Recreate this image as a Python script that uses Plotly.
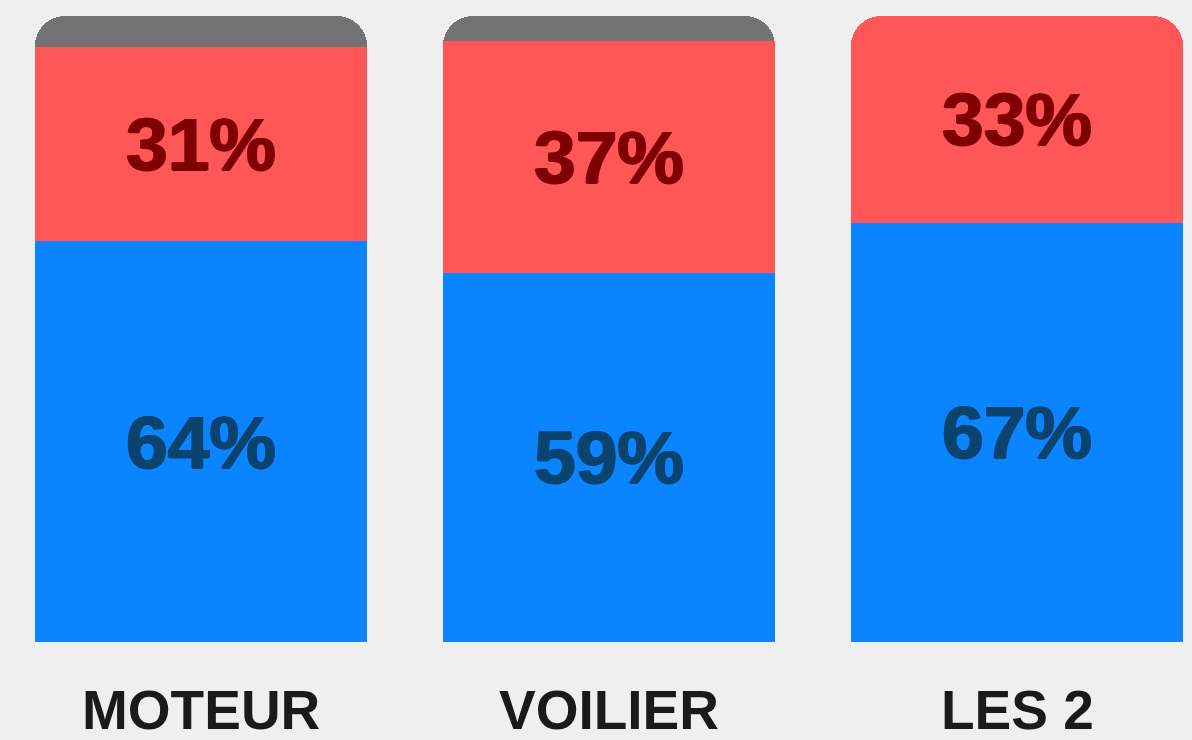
import plotly.graph_objects as go

categories = ["MOTEUR", "VOILIER", "LES 2"]
blue_vals = [64, 59, 67]
red_vals = [31, 37, 33]
grey_vals = [5, 4, 0]

BG = "#efefef"
BLUE_TXT = "#0b436f"
RED_TXT = "#7f0000"


def heavy(c):
    return ", ".join(f"{dx}px {dy}px 0px {c}" for dx, dy in [(1, 0), (-1, 0), (0, 1)])


fig = go.Figure()
fig.add_trace(go.Bar(
    x=categories, y=blue_vals, marker_color="#0a85ff", marker_line_width=0,
    text=[f"{v}%" for v in blue_vals], textposition="inside",
    insidetextanchor="middle", textangle=0, constraintext="none",
    textfont=dict(family="Liberation Sans, Arial", size=75, color=BLUE_TXT,
                  weight="bold", shadow=heavy(BLUE_TXT)),
    hoverinfo="skip",
))
fig.add_trace(go.Bar(
    x=categories, y=red_vals, marker_color="#ff5757", marker_line_width=0,
    text=[f"{v}%" for v in red_vals], textposition="inside",
    insidetextanchor="middle", textangle=0, constraintext="none",
    textfont=dict(family="Liberation Sans, Arial", size=75, color=RED_TXT,
                  weight="bold", shadow=heavy(RED_TXT)),
    hoverinfo="skip",
))
fig.add_trace(go.Bar(
    x=categories, y=grey_vals, marker_color="#737373", marker_line_width=0,
    textposition="none", hoverinfo="skip",
))

for i, c in enumerate(categories):
    fig.add_annotation(
        x=c, y=-0.106, xref="x", yref="paper", text=f"<b>{c}</b>",
        showarrow=False, yanchor="middle",
        font=dict(family="Liberation Sans, Arial", size=55, color="#1a1a1a"),
    )

fig.update_layout(
    width=1192, height=740,
    barmode="stack", bargap=0.186, barcornerradius=30,
    paper_bgcolor=BG, plot_bgcolor=BG,
    margin=dict(l=0, r=0, t=0, b=98),
    showlegend=False,
    xaxis=dict(range=[-0.4926, 2.4289], showticklabels=False, showgrid=False,
               zeroline=False, showline=False, fixedrange=True),
    yaxis=dict(range=[0, 102.56], showticklabels=False, showgrid=False,
               zeroline=False, showline=False, fixedrange=True),
)

fig.write_html("out.html")
